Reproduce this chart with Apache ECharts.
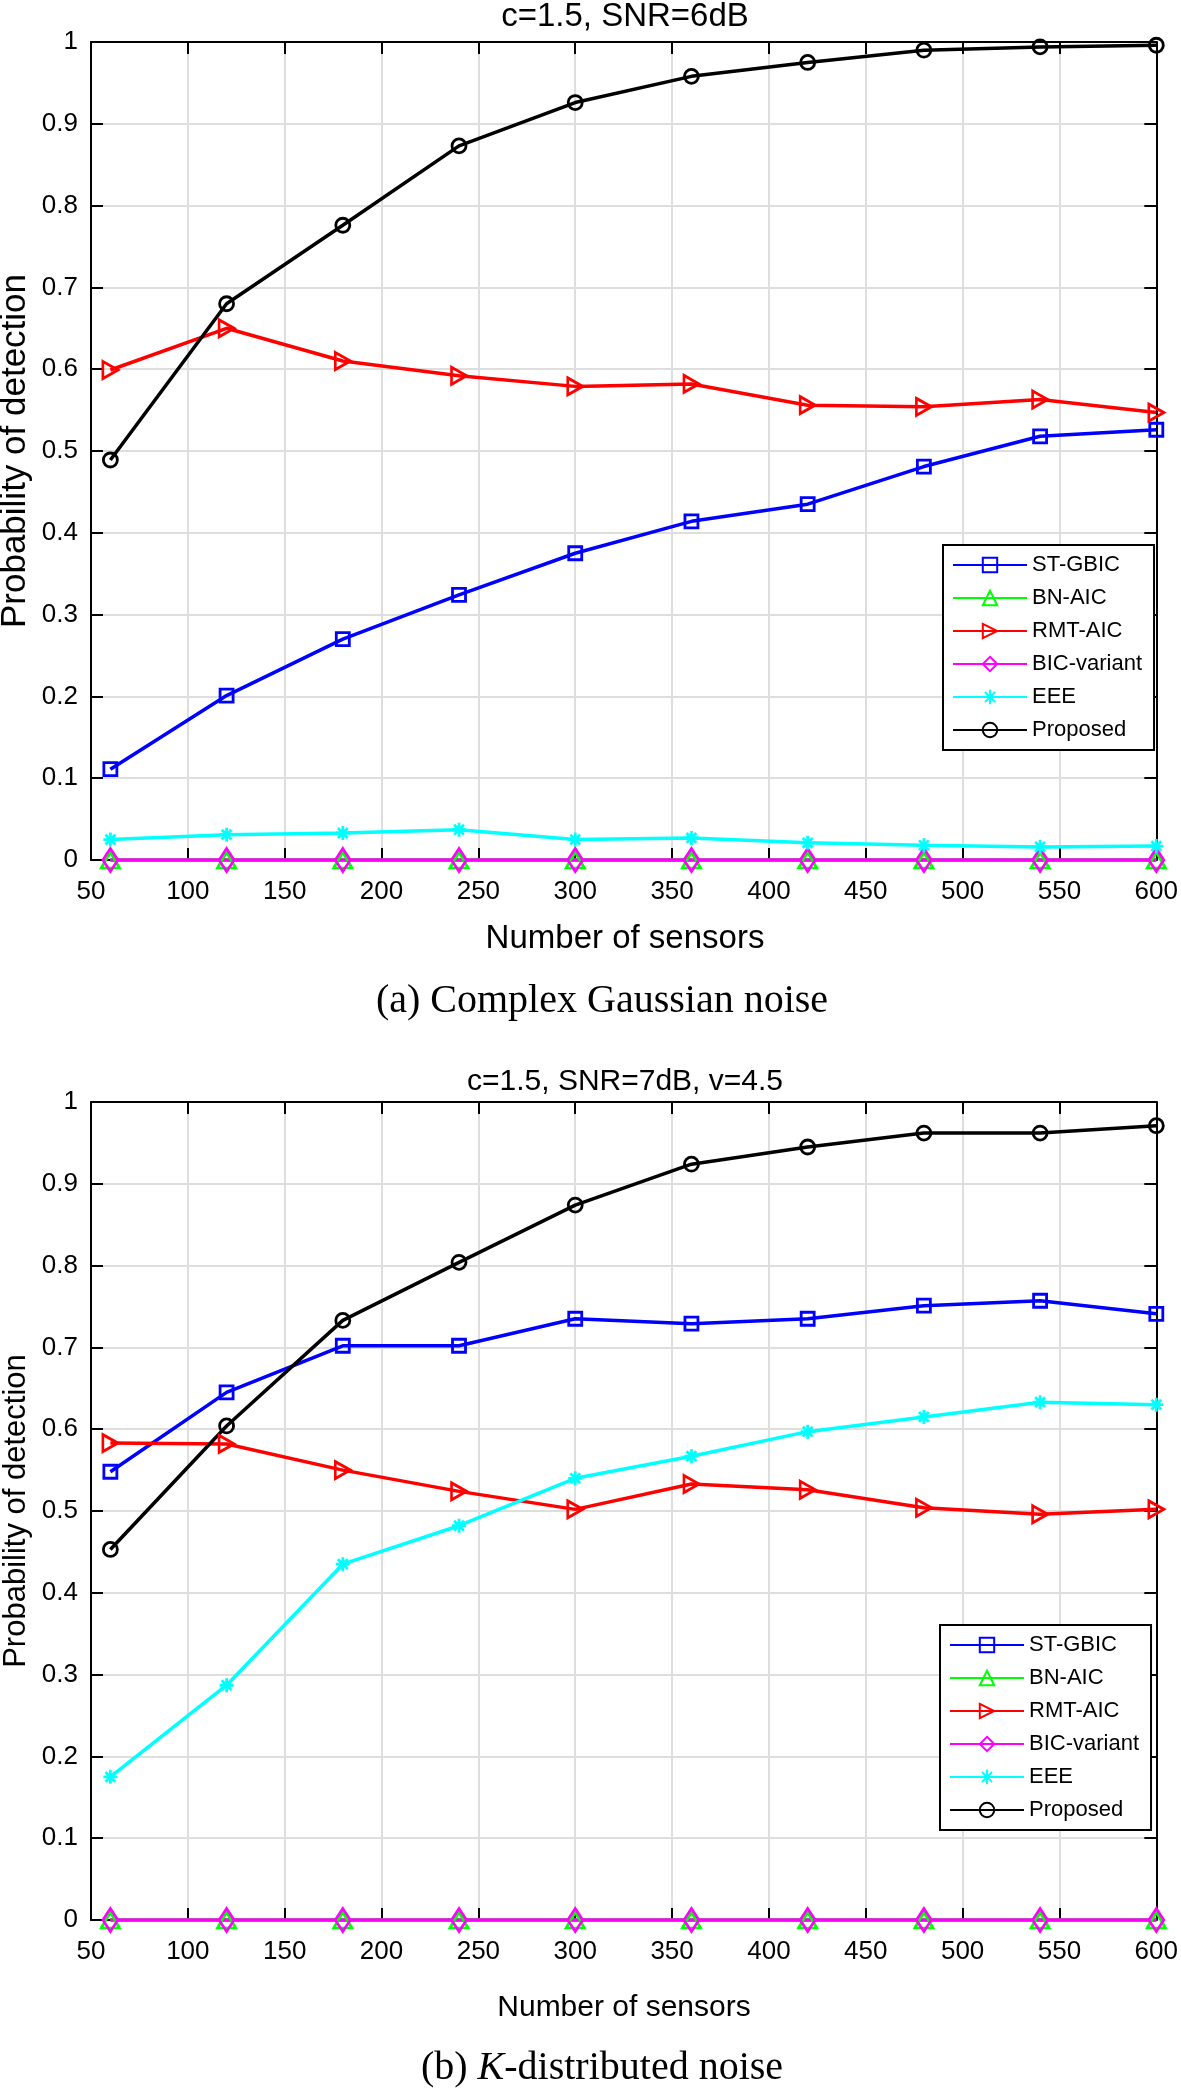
<!DOCTYPE html>
<html><head><meta charset="utf-8">
<script src="https://cdn.jsdelivr.net/npm/echarts@6/dist/echarts.min.js"></script>
<style>html,body{margin:0;padding:0;background:#fff}#c{width:1181px;height:2089px}</style>
</head><body><div id="c"></div>
<script>
// ---------- data ----------
const sensors = [60, 120, 180, 240, 300, 360, 420, 480, 540, 600];
const seriesNames = ['ST-GBIC', 'BN-AIC', 'RMT-AIC', 'BIC-variant', 'EEE', 'Proposed'];

// (a) Complex Gaussian noise, c=1.5, SNR=6dB
const gaussST_GBIC   = [0.111, 0.201, 0.270, 0.324, 0.375, 0.414, 0.435, 0.481, 0.518, 0.526];
const gaussBN_AIC    = [0, 0, 0, 0, 0, 0, 0, 0, 0, 0];
const gaussRMT_AIC   = [0.599, 0.650, 0.610, 0.592, 0.579, 0.582, 0.556, 0.554, 0.563, 0.547];
const gaussBICvar    = [0, 0, 0, 0, 0, 0, 0, 0, 0, 0];
const gaussEEE       = [0.025, 0.031, 0.033, 0.037, 0.025, 0.027, 0.021, 0.018, 0.016, 0.017];
const gaussProposed  = [0.489, 0.680, 0.776, 0.873, 0.926, 0.958, 0.975, 0.990, 0.994, 0.996];

// (b) K-distributed noise, c=1.5, SNR=7dB, v=4.5
const kST_GBIC   = [0.548, 0.645, 0.702, 0.702, 0.735, 0.729, 0.735, 0.751, 0.757, 0.741];
const kBN_AIC    = [0, 0, 0, 0, 0, 0, 0, 0, 0, 0];
const kRMT_AIC   = [0.583, 0.582, 0.550, 0.524, 0.502, 0.533, 0.526, 0.504, 0.496, 0.502];
const kBICvar    = [0, 0, 0, 0, 0, 0, 0, 0, 0, 0];
const kEEE       = [0.175, 0.287, 0.435, 0.482, 0.540, 0.567, 0.597, 0.615, 0.633, 0.630];
const kProposed  = [0.453, 0.604, 0.733, 0.804, 0.874, 0.924, 0.945, 0.962, 0.962, 0.971];

const xMin = 50, xMax = 600, xStep = 50;
const yMin = 0, yMax = 1, yStep = 0.1;

const titleA = 'c=1.5, SNR=6dB';
const titleB = 'c=1.5, SNR=7dB, v=4.5';
const xName = 'Number of sensors';
const yName = 'Probability of detection';
const captionA = '(a) Complex Gaussian noise';
const captionB = '(b) {it|K}-distributed noise';

// ---------- styles ----------
const SANS = '"Liberation Sans", Arial, Helvetica, sans-serif';
const SERIF = '"Liberation Serif", "Times New Roman", serif';
const styles = [
  {color: '#0000ff', symbol: 'rect', size: 13},
  {color: '#00ff00', symbol: 'triangle', size: [18, 16]},
  {color: '#ff0000', symbol: 'path://M0,0L10,5L0,10Z', size: [15, 17]},
  {color: '#ff00ff', symbol: 'diamond', size: [15, 23]},
  {color: '#00ffff', symbol: 'path://M5,0L5,10M0,5L10,5M1.5,1.5L8.5,8.5M8.5,1.5L1.5,8.5', size: 14},
  {color: '#000000', symbol: 'circle', size: 14}
];
const dataA = [gaussST_GBIC, gaussBN_AIC, gaussRMT_AIC, gaussBICvar, gaussEEE, gaussProposed];
const dataB = [kST_GBIC, kBN_AIC, kRMT_AIC, kBICvar, kEEE, kProposed];

const grids = [
  {left: 91, top: 42, width: 1068, height: 818},
  {left: 91, top: 1102, width: 1068, height: 818}
];

function xAxes(g) {
  const base = {
    type: 'value', gridIndex: g, min: xMin, max: xMax, interval: xStep,
    axisLine: {show: true, onZero: false, lineStyle: {color: '#000', width: 2}},
    axisTick: {show: true, inside: true, length: 12, lineStyle: {color: '#000', width: 2}}
  };
  return [
    Object.assign({}, base, {position: 'bottom',
      axisLabel: {show: true, margin: 19, fontSize: 26, color: '#000', fontFamily: SANS},
      splitLine: {show: true, lineStyle: {color: '#dedede', width: 2}}}),
    Object.assign({}, base, {position: 'top', axisLabel: {show: false}, splitLine: {show: false}})
  ];
}
function yAxes(g) {
  const base = {
    type: 'value', gridIndex: g, min: yMin, max: yMax, interval: yStep,
    axisLine: {show: true, onZero: false, lineStyle: {color: '#000', width: 2}},
    axisTick: {show: true, inside: true, length: 12, lineStyle: {color: '#000', width: 2}}
  };
  return [
    Object.assign({}, base, {position: 'left',
      axisLabel: {show: true, margin: 13, fontSize: 26, color: '#000', fontFamily: SANS,
        formatter: v => String(Math.round(v * 10) / 10)},
      splitLine: {show: true, lineStyle: {color: '#dedede', width: 2}}}),
    Object.assign({}, base, {position: 'right', axisLabel: {show: false}, splitLine: {show: false}})
  ];
}

function makeSeries(dataSet, axisIdx) {
  return dataSet.map((vals, i) => ({
    type: 'line', name: seriesNames[i],
    xAxisIndex: axisIdx, yAxisIndex: axisIdx,
    data: sensors.map((x, k) => [x, vals[k]]),
    symbol: styles[i].symbol, symbolSize: styles[i].size, showAllSymbol: true,
    lineStyle: {color: styles[i].color, width: 3.5},
    itemStyle: {color: 'rgba(0,0,0,0)', borderColor: styles[i].color, borderWidth: 2.8},
    clip: false, silent: true, animation: false,
    emphasis: {disabled: true}
  }));
}

function legendAt(left, top) {
  return {
    data: seriesNames, orient: 'vertical', left: left, top: top,
    itemWidth: 74, itemHeight: 18, itemGap: 11,
    padding: [9, 12, 9, 9],
    borderColor: '#000', borderWidth: 2, backgroundColor: '#fff',
    selectedMode: false,
    textStyle: {fontSize: 22, color: '#000', fontFamily: SANS}
  };
}

function txt(text, x, y, size, opts) {
  opts = opts || {};
  return {
    type: 'text', x: x, y: y, rotation: opts.rot || 0, silent: true, z: 10,
    style: Object.assign({
      text: text, fill: '#000',
      fontSize: size, fontFamily: opts.family || SANS,
      align: 'center', verticalAlign: 'middle',
      textAlign: 'center', textVerticalAlign: 'middle'
    }, opts.extra || {})
  };
}

const chart = echarts.init(document.getElementById('c'), null, {renderer: 'canvas'});
chart.setOption({
  animation: false,
  backgroundColor: '#fff',
  grid: grids,
  xAxis: xAxes(0).concat(xAxes(1)),
  yAxis: yAxes(0).concat(yAxes(1)),
  legend: [legendAt(943, 545), legendAt(940, 1625)],
  series: makeSeries(dataA, 0).concat(makeSeries(dataB, 2)),
  graphic: [
    txt(titleA, 625, 17, 33),
    txt(xName, 625, 939, 33),
    txt(yName, 15, 451, 35, {rot: Math.PI / 2}),
    txt(captionA, 602, 1001, 40, {family: SERIF}),
    txt(titleB, 625, 1082, 30),
    txt(xName, 624, 2008, 30),
    txt(yName, 16, 1511, 31, {rot: Math.PI / 2}),
    txt(captionB, 602, 2068, 40, {family: SERIF,
      extra: {rich: {it: {fontStyle: 'italic', fontSize: 40, fontFamily: SERIF, fill: '#000'}}}})
  ]
});
</script></body></html>
